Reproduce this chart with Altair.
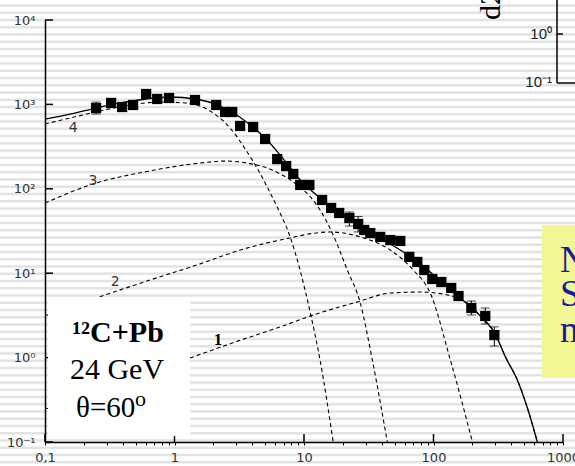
import altair as alt
import pandas as pd

# ---------------- data ----------------
pt_x = [0.248, 0.324, 0.394, 0.479, 0.604, 0.735, 0.908, 1.44, 2.10, 2.46, 2.79, 3.21, 4.05,
        5.01, 6.21, 7.28, 8.26, 9.35, 11.0, 13.8, 16.2, 18.7, 22.4, 26.2, 29.2, 32.5, 38.8,
        46.4, 55.4, 65.0, 75.0, 84.9, 97.9, 115, 137, 156, 196, 251, 295]
pt_y = [906, 1040, 931, 984, 1328, 1159, 1191, 1128, 984, 813, 813, 555, 540,
        389, 225, 186, 150, 111, 111, 73.7, 59.3, 51.7, 45.1, 38.3, 32.5, 29.9, 26.9,
        24.7, 24.1, 15.6, 13.6, 10.9, 8.54, 7.87, 6.68, 5.37, 3.87, 3.11, 1.85]

err_x = [0.248, 22.4, 26.2, 196, 251, 295]
err_lo = [770, 36.2, 30.8, 3.20, 2.50, 1.37]
err_hi = [1067, 53.1, 47.0, 4.69, 3.87, 2.31]

total_x = [0.1, 0.156, 0.248, 0.380, 0.604, 0.925, 1.44, 2.06, 2.94, 3.84, 5.01, 6.55, 9.35,
           13.3, 19.0, 27.2, 38.8, 55.4, 79.1, 113, 161, 230, 300, 359, 444, 531, 634]
total_y = [671, 769, 906, 1040, 1159, 1223, 1159, 1011, 769, 570, 400, 251, 127,
           77.8, 51.7, 36.2, 26.1, 18.8, 12.9, 8.09, 5.08, 3.11, 1.90, 1.02, 0.543, 0.253, 0.1]

c4_x = [0.1, 0.156, 0.266, 0.454, 0.774, 1.21, 1.99, 2.69, 3.64, 4.43, 5.20, 6.21, 7.82, 11.2, 13.3, 16.8]
c4_y = [586, 690, 835, 984, 1067, 1040, 791, 525, 273, 167, 105, 60.8, 26.9, 3.37, 0.937, 0.1]

c3_x = [0.1, 0.235, 0.647, 1.58, 2.46, 3.64, 5.20, 6.55, 8.86, 11.2, 13.3, 16.8, 21.6, 27.2, 33.7, 44.0]
c3_y = [67.9, 114, 163, 202, 213, 202, 176, 150, 111, 80.0, 56.1, 28.4, 10.9, 4.44, 0.937, 0.1]

c2_x = [0.235, 0.647, 1.58, 3.21, 6.55, 15.9, 27.2, 46.4, 69.8, 94.4, 135, 200]
c2_y = [4.94, 8.30, 12.9, 18.8, 24.7, 30.8, 26.9, 18.8, 10.9, 5.82, 0.937, 0.1]

c1_x = [1.32, 2.94, 6.55, 11.8, 25.8, 46.4, 79.1, 128, 182, 230, 300, 359, 444, 531, 634]
c1_y = [0.989, 1.53, 2.31, 3.20, 4.56, 5.82, 5.98, 5.52, 4.44, 3.11, 1.90, 1.02, 0.543, 0.253, 0.1]

curve_label_text = ["4", "3", "2"]
curve_label_x = [0.165, 0.235, 0.348]
curve_label_y = [525, 124, 7.87]
label1_x = [2.17]
label1_y = [1.62]

y_tick_vals = [0.1, 1, 10, 100, 1000, 10000]
y_tick_text = ["10\u207b\u00b9", "10\u2070", "10\u00b9", "10\u00b2", "10\u00b3", "10\u2074"]
y_minor_vals = [0.25, 3.2]
x_major_vals = [0.1, 1, 10, 100, 1000]
x_major_text = ["0,1", "1", "10", "100", "1000"]
x_minor_mult = [2, 3, 4, 5, 6, 7, 8, 9]

box_lines = ["\u00b9\u00b2C+Pb", "24 GeV"]
# ------------------------------------------------------------

W, H = 518, 422
PL, PT = 45, 20

xs = alt.Scale(type="log", domain=[0.1, 1000], nice=False)
ys = alt.Scale(type="log", domain=[0.1, 10000], nice=False)

x_all_ticks = []
for d in x_major_vals[:-1]:
    x_all_ticks.append(d)
    x_all_ticks += [m * d for m in x_minor_mult]
x_all_ticks.append(x_major_vals[-1])


def ternary(vals, texts):
    parts = [f"abs(datum.value - {v}) < {v / 100} ? '{t}'" for v, t in zip(vals, texts)]
    return " : ".join(parts) + " : ''"


x_axis = alt.Axis(values=x_all_ticks, labelExpr=ternary(x_major_vals, x_major_text),
                  tickSize=3, tickColor="black", tickWidth=1, domainColor="black", domainWidth=1.5,
                  labelFont="DejaVu Sans", labelFontSize=13, labelColor="#333333",
                  labelPadding=6, grid=False, title=None, zindex=1,
                  labelFlush=False, labelOverlap=False)
y_axis = alt.Axis(values=y_tick_vals, labelExpr=ternary(y_tick_vals, y_tick_text),
                  tickSize=0, domainColor="black", domainWidth=1.5,
                  labelFont="DejaVu Sans", labelFontSize=13, labelColor="#333333",
                  labelPadding=10, grid=False, title=None, zindex=1,
                  labelFlush=False, labelOverlap=False)

one = pd.DataFrame({"a": [0]})

# background stripes (decorative)
stripes = alt.Chart(alt.sequence(5.5, 470, 7.25, as_="p")).transform_calculate(
    yy="datum.p - 20").mark_rule(color="#e3e3e3", strokeWidth=2.5).encode(
    y=alt.Y("yy:Q", scale=None, axis=None), x=alt.value(-PL), x2=alt.value(575 - PL))

pts_df = pd.DataFrame({"x": pt_x, "y": pt_y})
err_df = pd.DataFrame({"x": err_x, "lo": err_lo, "hi": err_hi})

rows = []
for name, cx, cy in [("4", c4_x, c4_y), ("3", c3_x, c3_y), ("2", c2_x, c2_y), ("1", c1_x, c1_y)]:
    for i, (a, b) in enumerate(zip(cx, cy)):
        rows.append({"curve": name, "i": i, "x": a, "y": b})
dash_df = pd.DataFrame(rows)
tot_df = pd.DataFrame({"x": total_x, "y": total_y, "i": list(range(len(total_x)))})

base_x = alt.X("x:Q", scale=xs, axis=x_axis)
base_y = alt.Y("y:Q", scale=ys, axis=y_axis)

total_line = alt.Chart(tot_df).mark_line(color="black", strokeWidth=1.3, interpolate="monotone").encode(
    x=base_x, y=base_y, order="i:Q")
dashed = alt.Chart(dash_df).mark_line(color="black", strokeWidth=1.1, strokeDash=[4, 3],
                                      interpolate="monotone").encode(
    x=alt.X("x:Q", scale=xs), y=alt.Y("y:Q", scale=ys), detail="curve:N", order="i:Q")

err_rule = alt.Chart(err_df).mark_rule(color="black", strokeWidth=1).encode(
    x=alt.X("x:Q", scale=xs), y=alt.Y("lo:Q", scale=ys), y2="hi:Q")
cap_lo = alt.Chart(err_df).mark_tick(color="black", orient="horizontal", size=9, thickness=1).encode(
    x=alt.X("x:Q", scale=xs), y=alt.Y("lo:Q", scale=ys))
cap_hi = alt.Chart(err_df).mark_tick(color="black", orient="horizontal", size=9, thickness=1).encode(
    x=alt.X("x:Q", scale=xs), y=alt.Y("hi:Q", scale=ys))
points = alt.Chart(pts_df).mark_square(color="black", filled=True, size=105, opacity=1).encode(
    x=alt.X("x:Q", scale=xs), y=alt.Y("y:Q", scale=ys))

# inward ticks
ymaj = alt.Chart(pd.DataFrame({"v": y_tick_vals})).mark_rule(color="black", strokeWidth=1.5).encode(
    y=alt.Y("v:Q", scale=ys), x=alt.value(0), x2=alt.value(8))
ymin = alt.Chart(pd.DataFrame({"v": y_minor_vals})).mark_rule(color="black", strokeWidth=1).encode(
    y=alt.Y("v:Q", scale=ys), x=alt.value(0), x2=alt.value(4))
xmaj = alt.Chart(pd.DataFrame({"v": x_major_vals})).mark_rule(color="black", strokeWidth=1.5).encode(
    x=alt.X("v:Q", scale=xs), y=alt.value(H), y2=alt.value(H - 8))

lab_df = pd.DataFrame({"t": curve_label_text, "x": curve_label_x, "y": curve_label_y})
labels = alt.Chart(lab_df).mark_text(font="DejaVu Sans", fontSize=14, color="#333333").encode(
    x=alt.X("x:Q", scale=xs), y=alt.Y("y:Q", scale=ys), text="t:N")
lab1 = alt.Chart(pd.DataFrame({"t": ["1"], "x": label1_x, "y": label1_y})).mark_text(
    font="Liberation Serif", fontSize=17, fontWeight="bold", color="black").encode(
    x=alt.X("x:Q", scale=xs), y=alt.Y("y:Q", scale=ys), text="t:N")

# white info box
wbox = alt.Chart(one).mark_rect(color="white", opacity=1).encode(
    x=alt.value(48 - PL), x2=alt.value(190 - PL), y=alt.value(297 - PT), y2=alt.value(436 - PT))
t1 = alt.Chart(one).mark_text(font="Liberation Serif", fontSize=30, fontWeight="bold", color="black",
                              baseline="alphabetic", align="center").encode(
    x=alt.value(118 - PL), y=alt.value(342 - PT), text=alt.value(box_lines[0]))
t2 = alt.Chart(one).mark_text(font="Liberation Serif", fontSize=30, color="black",
                              baseline="alphabetic", align="center").encode(
    x=alt.value(117 - PL), y=alt.value(379 - PT), text=alt.value(box_lines[1]))
t3 = alt.Chart(one).mark_text(font="Liberation Serif", fontSize=29, color="black",
                              baseline="alphabetic", align="left").encode(
    x=alt.value(76 - PL), y=alt.value(417 - PT), text=alt.value("\u03b8=60"))
t3o = alt.Chart(one).mark_text(font="Liberation Serif", fontSize=22, color="black",
                               baseline="alphabetic", align="left").encode(
    x=alt.value(135 - PL), y=alt.value(406 - PT), text=alt.value("o"))

# cropped neighbours of the slide (yellow note, second chart)
ybox = alt.Chart(one).mark_rect(color="#f2f794", opacity=1).encode(
    x=alt.value(542 - PL), x2=alt.value(580 - PL), y=alt.value(225 - PT), y2=alt.value(378 - PT))
note_df = pd.DataFrame({"t": ["N", "S", "m"], "yy": [272 - PT, 306 - PT, 342 - PT]})
note = alt.Chart(note_df).mark_text(font="Liberation Serif", fontSize=37, color="#1818a0",
                                    baseline="alphabetic", align="left").encode(
    x=alt.value(560 - PL), y=alt.Y("yy:Q", scale=None, axis=None), text="t:N")

d2 = alt.Chart(one).mark_text(font="Liberation Serif", fontSize=30, color="black", angle=270,
                              baseline="alphabetic", align="left").encode(
    x=alt.value(500 - PL), y=alt.value(20 - PT), text=alt.value("d2"))
mini_df = pd.DataFrame({"t": ["10\u2070", "10\u207b\u00b9"], "yy": [34 - PT, 82 - PT]})
mini_lab = alt.Chart(mini_df).mark_text(font="Liberation Sans", fontSize=15, color="#222222",
                                        baseline="middle", align="right").encode(
    x=alt.value(552 - PL), y=alt.Y("yy:Q", scale=None, axis=None), text="t:N")
mini_v = alt.Chart(one).mark_rule(color="black", strokeWidth=1.5).encode(
    x=alt.value(557 - PL), y=alt.value(-PT), y2=alt.value(83 - PT))
mini_h = alt.Chart(one).mark_rule(color="black", strokeWidth=1.5).encode(
    x=alt.value(557 - PL), x2=alt.value(580 - PL), y=alt.value(83 - PT))
mini_t = alt.Chart(one).mark_rule(color="black", strokeWidth=1.5).encode(
    x=alt.value(557 - PL), x2=alt.value(563 - PL), y=alt.value(34 - PT))

chart = alt.layer(
    stripes, total_line, dashed, err_rule, cap_lo, cap_hi, points, ymaj, ymin, xmaj,
    labels, lab1, wbox, t1, t2, t3, t3o, ybox, note, d2, mini_lab, mini_v, mini_h, mini_t
).properties(
    width=W, height=H,
    autosize=alt.AutoSizeParams(type="none"),
    padding={"left": PL, "top": PT, "right": 575 - PL - W, "bottom": 466 - PT - H},
    background="white",
).configure_view(strokeWidth=0)

chart.save("out.html", embed_options={"renderer": "svg", "actions": False})
